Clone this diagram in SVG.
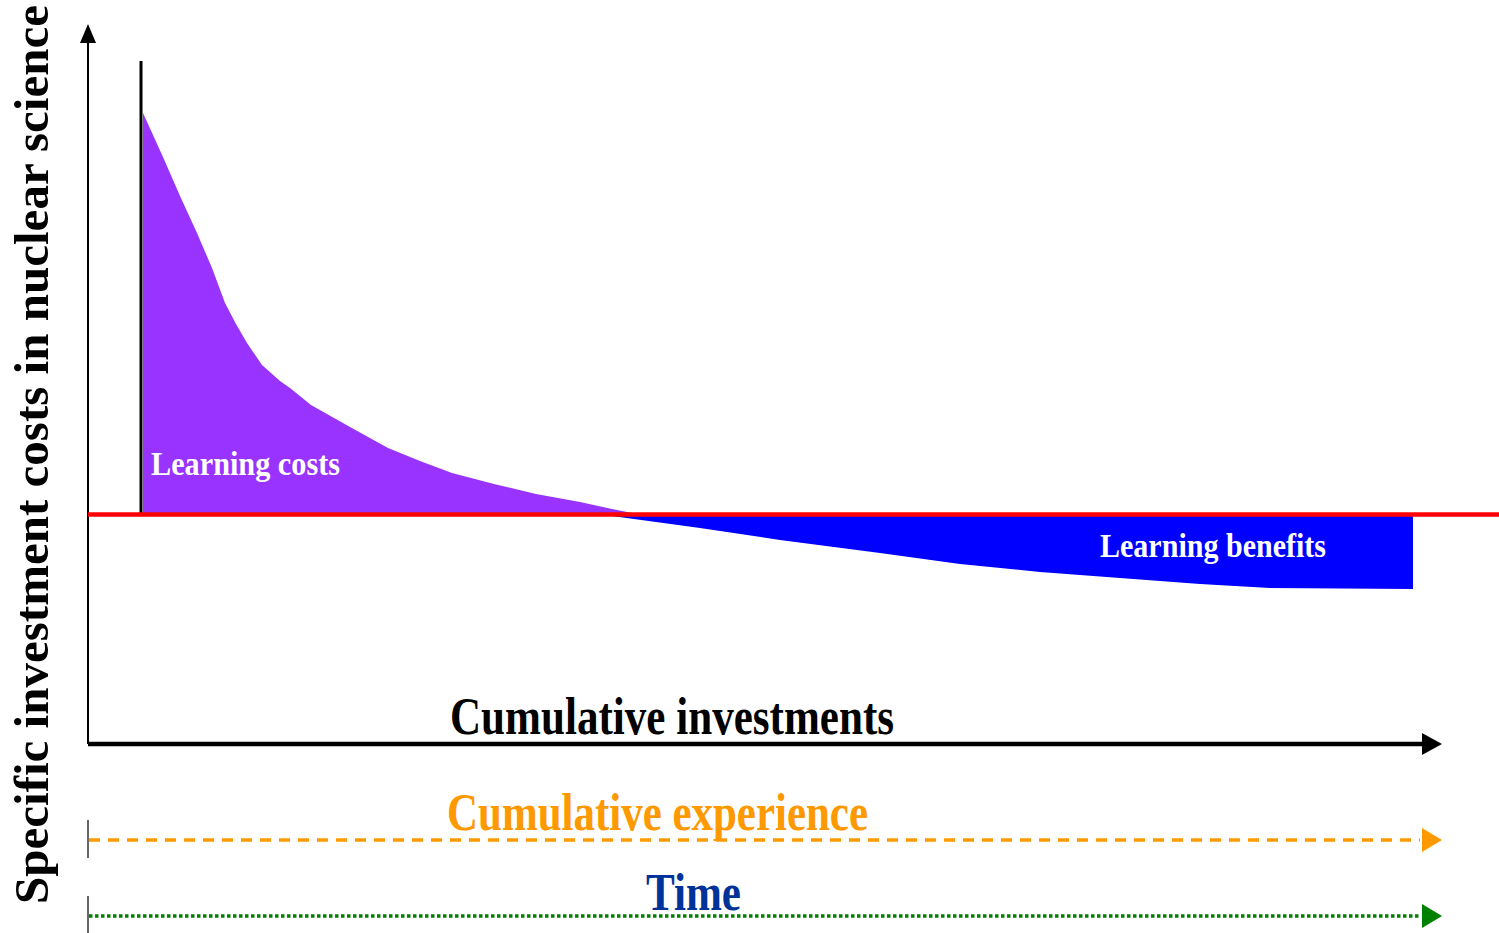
<svg xmlns="http://www.w3.org/2000/svg" width="1499" height="933" viewBox="0 0 1499 933">
<style>
.t{font-family:"Liberation Serif","Times New Roman",serif;font-weight:bold}
.big{font-size:52px}
.lbl{font-size:33px;fill:#ffffff}
</style>
<rect width="1499" height="933" fill="#ffffff"/>
<g id="areas">
<polygon id="learning-costs-area" fill="#9933FF" points="143,113 163,157 180,196 197,233 212,268 225,303 236,324 247,343 262,365 280,381 290,388 311,405 350,427 388,448 420,461 452,473 494,484 536,494 580,502 612,509 632,513 143,513"/>
<polygon id="learning-benefits-area" fill="#0000FF" points="612,516 1413,516 1413,589 1270,588 1200,584 1120,578 1040,572 960,564 880,553 780,540 700,528"/>
</g>
<g id="connectors">
<line x1="88" y1="744" x2="88" y2="40" stroke="#000" stroke-width="2"/>
<polygon points="88,24 80,43 96,43" fill="#000"/>
<line x1="141" y1="61" x2="141" y2="515" stroke="#000" stroke-width="3"/>
<line x1="88" y1="514.5" x2="1499" y2="514.5" stroke="#FF0000" stroke-width="4.5"/>
<line x1="88" y1="744" x2="1424" y2="744" stroke="#000" stroke-width="4.3"/>
<polygon points="1442,744 1422,733 1422,755" fill="#000"/>
<line x1="88" y1="820" x2="88" y2="858" stroke="#333" stroke-width="1.5"/>
<line x1="89" y1="840" x2="1420" y2="840" stroke="#FF9900" stroke-width="3.5" stroke-dasharray="11 8"/>
<polygon points="1442,840 1422,828 1422,852" fill="#FF9900"/>
<line x1="88" y1="896" x2="88" y2="933" stroke="#333" stroke-width="1.5"/>
<line x1="89" y1="916" x2="1420" y2="916" stroke="#008000" stroke-width="3.5" stroke-dasharray="3.5 2.5"/>
<polygon points="1442,916 1422,904 1422,928" fill="#008000"/>
</g>
<g id="y-axis-label">
<text class="t" font-size="49" transform="translate(48,904) rotate(-90)" textLength="899" lengthAdjust="spacingAndGlyphs">Specific investment costs in nuclear science</text>
</g>
<g id="x-axis-label">
<text class="t big" x="450" y="734" textLength="444" lengthAdjust="spacingAndGlyphs">Cumulative investments</text>
</g>
<g id="experience-label">
<text class="t big" x="447" y="830" fill="#FF9900" textLength="421" lengthAdjust="spacingAndGlyphs">Cumulative experience</text>
</g>
<g id="time-label">
<text class="t big" x="646" y="910" fill="#003399" textLength="95" lengthAdjust="spacingAndGlyphs">Time</text>
</g>
<g id="learning-costs-label">
<text class="t lbl" x="151" y="475" textLength="189" lengthAdjust="spacingAndGlyphs">Learning costs</text>
</g>
<g id="learning-benefits-label">
<text class="t lbl" x="1100" y="557" textLength="226" lengthAdjust="spacingAndGlyphs">Learning benefits</text>
</g>
</svg>
